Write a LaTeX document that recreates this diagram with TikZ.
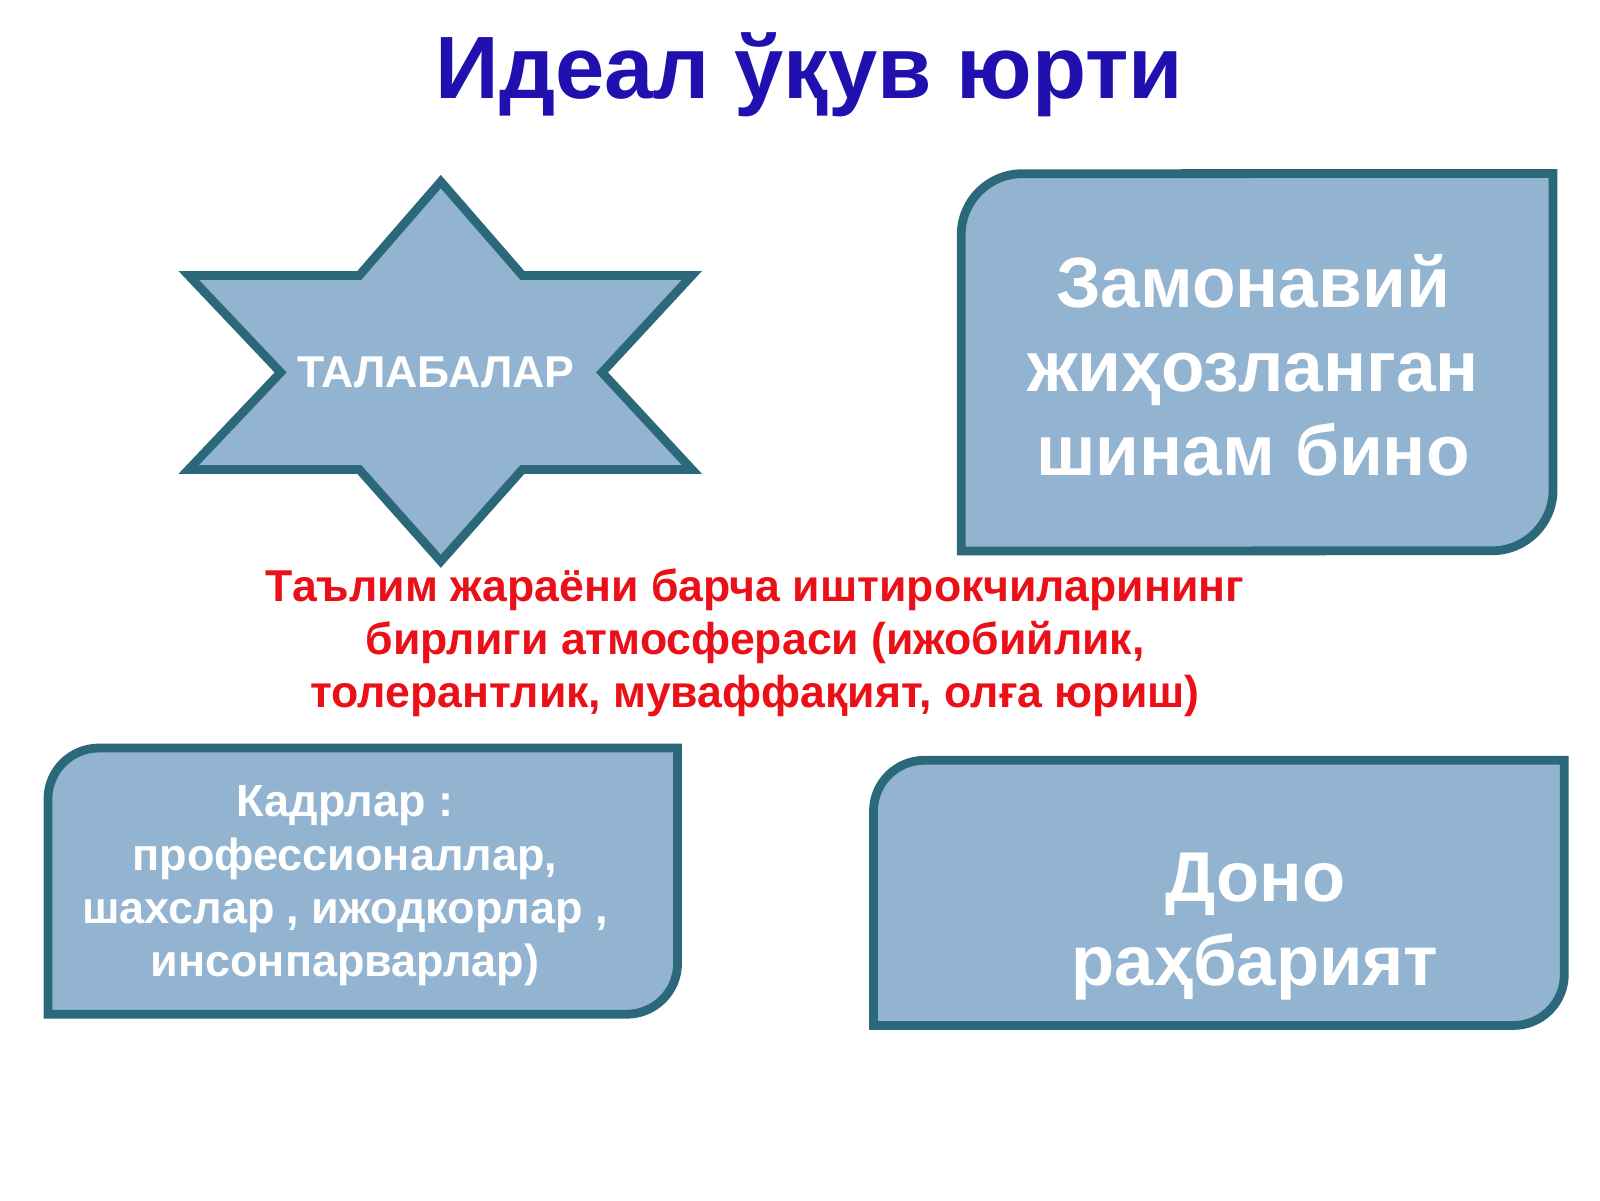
\documentclass[tikz,border=0pt]{standalone}
\usepackage{fontspec}
\setmainfont{Liberation Sans}
\usepackage{tikz}

\definecolor{titleblue}{RGB}{32,16,176}
\definecolor{textred}{RGB}{235,16,24}
\definecolor{boxblue}{RGB}{147,180,208}
\definecolor{frameteal}{RGB}{43,104,122}

\begin{document}
\begin{tikzpicture}[x=0.010204cm, y=0.010204cm,
        frame/.style={draw=frameteal, line width=2.5pt, fill=boxblue},
        boxtext/.style={text=white, font=\bfseries, align=center}]
        \useasboundingbox (0, 0) rectangle (1568, 1176);
        \fill[white] (0, 0) rectangle (1568, 1176);
        % star and the three boxes
        \draw[frame] (432, 998) -- (512, 906) -- (678, 906) -- (590, 811) -- (678, 716) -- (512, 716) -- (432, 626) -- (352, 716) -- (185, 716) -- (275, 811) -- (185, 906) -- (352, 906) -- cycle;
        \draw[frame] (1522, 1006) -- (1522, 696) arc[start angle=0, end angle=-90, radius=0.61cm] -- (942, 636) -- (942, 946) arc[start angle=180, end angle=90, radius=0.61cm] -- cycle;
        \draw[frame] (664, 443) -- (664, 232) arc[start angle=0, end angle=-90, radius=0.51cm] -- (47, 182) -- (47, 393) arc[start angle=180, end angle=90, radius=0.51cm] -- cycle;
        \draw[frame] (1533, 431) -- (1533, 221) arc[start angle=0, end angle=-90, radius=0.51cm] -- (856, 171) -- (856, 381) arc[start angle=180, end angle=90, radius=0.51cm] -- cycle;
        \path (793, 1079) node[anchor=base, text=titleblue, font=\bfseries\fontsize{25.2}{30}\selectfont] (title) {Идеал ўқув юрти}
            (427, 811) node[boxtext, font=\bfseries\fontsize{12.7}{15.1}\selectfont] (talaba) {ТАЛАБАЛАР}
            (1228, 818) node[boxtext, font=\bfseries\fontsize{20.3}{24}\selectfont] (bino) {Замонавий\\ жиҳозланган\\ шинам бино}
            (740, 546) node[align=center, text=textred, font=\bfseries\fontsize{12.7}{15.1}\selectfont] (muhit) {Таълим жараёни барча иштирокчиларининг\\ бирлиги атмосфераси (ижобийлик,\\ толерантлик, муваффақият, олға юриш)}
            (338, 308) node[boxtext, font=\bfseries\fontsize{12.8}{15.1}\selectfont] (kadr) {Кадрлар :\\ профессионаллар,\\ шахслар , ижодкорлар ,\\ инсонпарварлар)}
            (1230, 268) node[boxtext, font=\bfseries\fontsize{20.1}{24}\selectfont] (rahbar) {Доно\\ раҳбарият};
    \end{tikzpicture}
\end{document}
